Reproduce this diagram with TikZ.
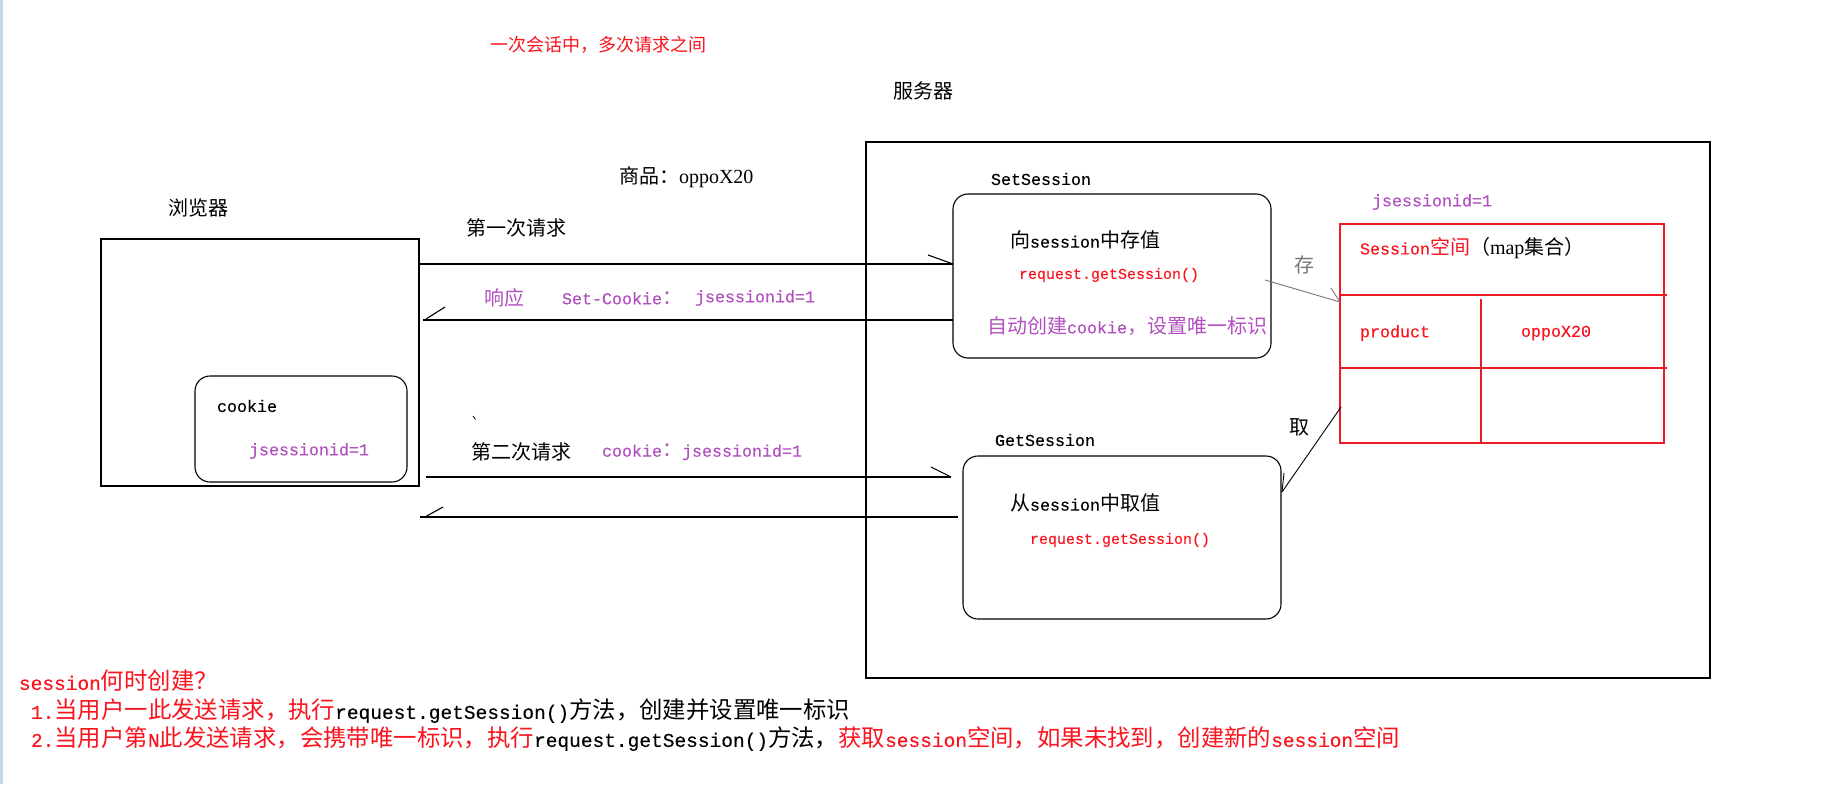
\documentclass[tikz,border=0pt]{standalone}
\usepackage{fontspec}
\setmainfont{Liberation Serif}
\newfontfamily\zh{Noto Sans CJK SC}
\newfontfamily\mn[Scale=0.8333,FakeBold=0.3]{Liberation Mono}
\usetikzlibrary{calc}
\definecolor{tred}{RGB}{250,20,30}
\definecolor{lred}{RGB}{237,28,36}
\definecolor{tpur}{RGB}{177,80,190}
\definecolor{tgray}{RGB}{118,118,118}
\definecolor{edgeblue}{RGB}{200,214,234}
\newcommand\fs[1]{\fontsize{#1}{#1}\selectfont}
\newcommand\lm[1]{{\mn #1}}
\newcommand\se[1]{{\rmfamily #1}}
\begin{document}
\begin{tikzpicture}[x=1pt,y=-1pt,
  txt/.style={inner sep=0pt, outer sep=0pt, anchor=west, font=\zh\fs{20}},
  btxt/.style={txt, font=\zh\fs{23.4}},
  box/.style={draw, line width=1.1pt, inner sep=0pt, outer sep=0pt, anchor=north west},
  rbox/.style={box, rounded corners=15pt},
  ln/.style={line width=1.1pt},
  tln/.style={line width=1.1pt, draw=lred}
]
\useasboundingbox (0,0) rectangle (1846,784);
\fill[white] (0,0) rectangle (1846,784);
\fill[edgeblue] (0,0) rectangle (2.5,784);

% boxes
\node[box, minimum width=844pt, minimum height=536pt] (server) at (866,142) {};
\node[box, minimum width=318pt, minimum height=247pt] (browser) at (101,239) {};
\node[rbox, minimum width=212pt, minimum height=106pt] (cookiebox) at (195,376) {};
\node[rbox, minimum width=318pt, minimum height=164pt] (ss) at (953,194) {};
\node[rbox, minimum width=318pt, minimum height=163pt] (gs) at (963,456) {};
\node[box, draw=lred, minimum width=324pt, minimum height=219pt] (tbl) at (1340,224) {};

% table inner lines
\draw[tln] ($(tbl.north west)+(0,71)$) coordinate (h1) -- ++(327,0);
\draw[tln] ($(tbl.north west)+(0,144)$) coordinate (h2) -- ++(327,0);
\draw[tln] ($(tbl.north west)+(141,75)$) coordinate (v1) -- ($(tbl.south west)+(141,-1)$);

% texts
\node[txt, font=\zh\fs{18}, text=tred] (title) at (490,45) {一次会话中，多次请求之间};
\node[txt] (srv) at (893,91) {服务器};
\node[txt] (goods) at (619,177) {商品：\se{oppoX20}};
\node[txt] (brw) at (168,208) {浏览器};
\node[txt] (req1) at (466,228) {第一次请求};
\node[txt, text=tpur] (resp) at (484,298) {响应};
\node[txt, text=tpur] (setck) at (562,298) {\lm{Set-Cookie}：};
\node[txt, text=tpur] (setid) at (695,298) {\lm{jsessionid=1}};
\node[txt] (req2) at (471,452) {第二次请求};
\node[txt, text=tpur] (ckid) at (602,452) {\lm{cookie}：\lm{jsessionid=1}};
\node[txt] (ckl) at (217,406) {\lm{cookie}};
\node[txt, text=tpur] (ckv) at (249,451) {\lm{jsessionid=1}};
\node[txt] (ssl) at (991,179) {\lm{SetSession}};
\node[txt] (ss1) at (1010,240) {向\lm{session}中存值};
\node[txt, font=\zh\fs{18}, text=tred] (ss2) at (1019,275) {\lm{request.getSession()}};
\node[txt, text=tpur] (ss3) at (987,326) {自动创建\lm{cookie}，设置唯一标识};
\node[txt, text=tgray] (cun) at (1294,265) {存};
\node[txt, text=tpur] (tid) at (1372,202) {\lm{jsessionid=1}};
\node[txt] (thead) at (1360,248) {\textcolor{tred}{\lm{Session}空间}（\se{map}集合）};
\node[txt, text=tred] (tk) at (1360,333) {\lm{product}};
\node[txt, text=tred] (tv) at (1521,333) {\lm{oppoX20}};
\node[txt] (qu) at (1289,427) {取};
\node[txt] (gsl) at (995,440) {\lm{GetSession}};
\node[txt] (gs1) at (1010,503) {从\lm{session}中取值};
\node[txt, font=\zh\fs{18}, text=tred] (gs2) at (1030,540) {\lm{request.getSession()}};

\node[btxt, text=tred] (q0) at (19,681) {\lm{session}何时创建？};
\node[btxt] (q1) at (31,711) {\textcolor{tred}{\lm{1.}当用户一此发送请求，执行}\lm{request.getSession()}方法，创建并设置唯一标识};
\node[btxt] (q2) at (31,739) {\textcolor{tred}{\lm{2.}当用户第\lm{N}此发送请求，会携带唯一标识，执行}\lm{request.getSession()}方法，\textcolor{tred}{获取\lm{session}空间，如果未找到，创建新的\lm{session}空间}};

% connectors
\coordinate (y1) at (0,264);
\coordinate (y2) at (0,320);
\coordinate (y3) at (0,477);
\coordinate (y4) at (0,517);
\draw[ln] (browser.east |- y1) -- (ss.west |- y1) coordinate (t1);
\draw[ln] (t1) -- ++(-25,-9);
\draw[ln] (ss.west |- y2) -- ($(browser.east |- y2)+(4,0)$) coordinate (t2);
\draw[ln] ($(t2)+(3,-1)$) -- ++(19,-12);
\draw[ln] ($(browser.east |- y3)+(7,0)$) -- ($(gs.west |- y3)+(-12,0)$) coordinate (t3);
\draw[ln] (t3) -- ++(-20,-10);
\draw[ln] ($(gs.west |- y4)+(-5,0)$) -- ($(browser.east |- y4)+(1,0)$) coordinate (t4);
\draw[ln] ($(t4)+(5,0)$) -- ++(18,-10);
% 存 arrow
\draw[line width=0.9pt, tgray] ($(ss.east)+(-6,4)$) -- ($(tbl.north west)+(0,78)$) coordinate (t5);
\draw[line width=0.9pt, tgray] (t5) -- ++(-9,-14);
% 取 arrow
\draw[line width=0.9pt] ($(tbl.north west)+(1,183)$) -- ($(gs.north east)+(1,36)$) coordinate (t6);
\draw[line width=0.9pt] (t6) -- ++(2,-19);
% stray mark
\draw[line width=0.8pt] (473,416) -- (475.5,419.5);
\end{tikzpicture}
\end{document}
